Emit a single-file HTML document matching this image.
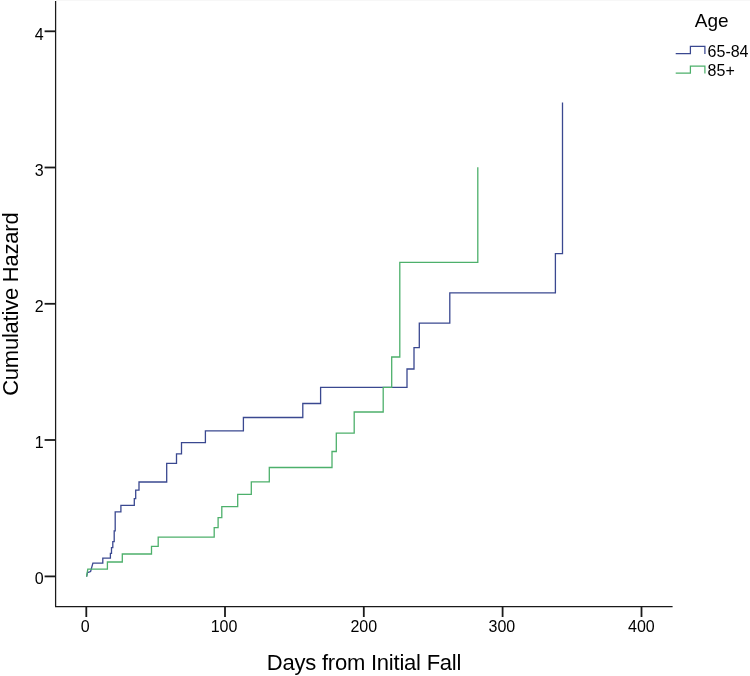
<!DOCTYPE html>
<html>
<head>
<meta charset="utf-8">
<title>Cumulative Hazard by Age</title>
<style>
html,body{margin:0;padding:0;background:#fff;}
body{width:750px;height:676px;overflow:hidden;}
svg{display:block;}
text{font-family:"Liberation Sans",Arial,sans-serif;fill:#000;}
.tl{font-size:16px;}
.at{font-size:22px;letter-spacing:-0.22px;}
</style>
</head>
<body>
<svg width="750" height="676" viewBox="0 0 750 676">
<rect x="0" y="0" width="750" height="676" fill="#ffffff"/>
<path d="M56,0.5 H750" stroke="#f7f7f7" stroke-width="1" fill="none"/>
<!-- axes -->
<g stroke="#1a1a1a" fill="none">
<path d="M55.6,1 V606.5 H672.6" stroke-width="1.25"/>
<g stroke-width="1.8">
<path d="M44.6,31.3 H55.5"/>
<path d="M44.6,167.5 H55.5"/>
<path d="M44.6,303.8 H55.5"/>
<path d="M44.6,440 H55.5"/>
<path d="M44.6,576.4 H55.5"/>
<path d="M86.3,606.5 V617"/>
<path d="M225,606.5 V617"/>
<path d="M363.8,606.5 V617"/>
<path d="M502.6,606.5 V617"/>
<path d="M641.5,606.5 V617"/>
</g>
</g>
<!-- y tick labels -->
<g class="tl" text-anchor="end">
<text x="43.6" y="39.5">4</text>
<text x="43.6" y="175.8">3</text>
<text x="43.6" y="311.8">2</text>
<text x="43.6" y="447.8">1</text>
<text x="43.6" y="584.1">0</text>
</g>
<!-- x tick labels -->
<g class="tl" text-anchor="middle">
<text x="85.2" y="632.4">0</text>
<text x="224" y="632.4">100</text>
<text x="363.8" y="632.4">200</text>
<text x="501.9" y="632.4">300</text>
<text x="641.4" y="632.4">400</text>
</g>
<!-- axis titles -->
<text class="at" x="364" y="669.5" text-anchor="middle">Days from Initial Fall</text>
<text class="at" transform="translate(18.2,304.2) rotate(-90)" text-anchor="middle">Cumulative Hazard</text>
<!-- curves -->
<g fill="none" stroke-width="1.3" stroke-linejoin="miter">
<path stroke="#3a4890" d="M86.6,576.6 L87.5,572.6 L90.6,571.5 L92.9,563.1 H102.8 V558.1 H110.4 V553.4 H111.5 V547.6 H112.8 V541.6 H114.2 V530.9 H115.2 V511.9 H120.9 V505.4 H134.3 V498.6 H135.7 V490.1 H139 V482 H166.7 V463.4 H176.5 V453.8 H181.5 V442.6 H205.4 V430.8 H243.4 V417.5 H302.8 V403.5 H320.6 V387.4 H407 V369 H414 V347.6 H419.3 V323.2 H449.8 V292.9 H555.4 V253.7 H562.5 V102.6"/>
<path stroke="#4db06b" d="M86.6,576.7 L87.8,569.2 H107.4 V562 H122.3 V554 H151.5 V546.3 H158.2 V537.1 H214.2 V527.7 H218.1 V517.6 H221.8 V506.6 H237.7 V494.4 H251.3 V481.9 H269.3 V467.5 H332 V451.5 H336.3 V433.2 H354.2 V412 H383.2 V387.4 H391.7 V357 H399.8 V262.4 H477.8 V167.2"/>
</g>
<!-- legend -->
<text x="694.8" y="27.2" style="font-size:19px">Age</text>
<g fill="none" stroke-width="1.25">
<path stroke="#3a4890" d="M675.7,53.6 H690.4 V46.3 H704.9 V54"/>
<path stroke="#4db06b" d="M675.7,73.1 H690.4 V66.2 H704.9 V73.6"/>
</g>
<text class="tl" x="707.6" y="56.8">65-84</text>
<text class="tl" x="707.6" y="76.3">85+</text>
</svg>
</body>
</html>
